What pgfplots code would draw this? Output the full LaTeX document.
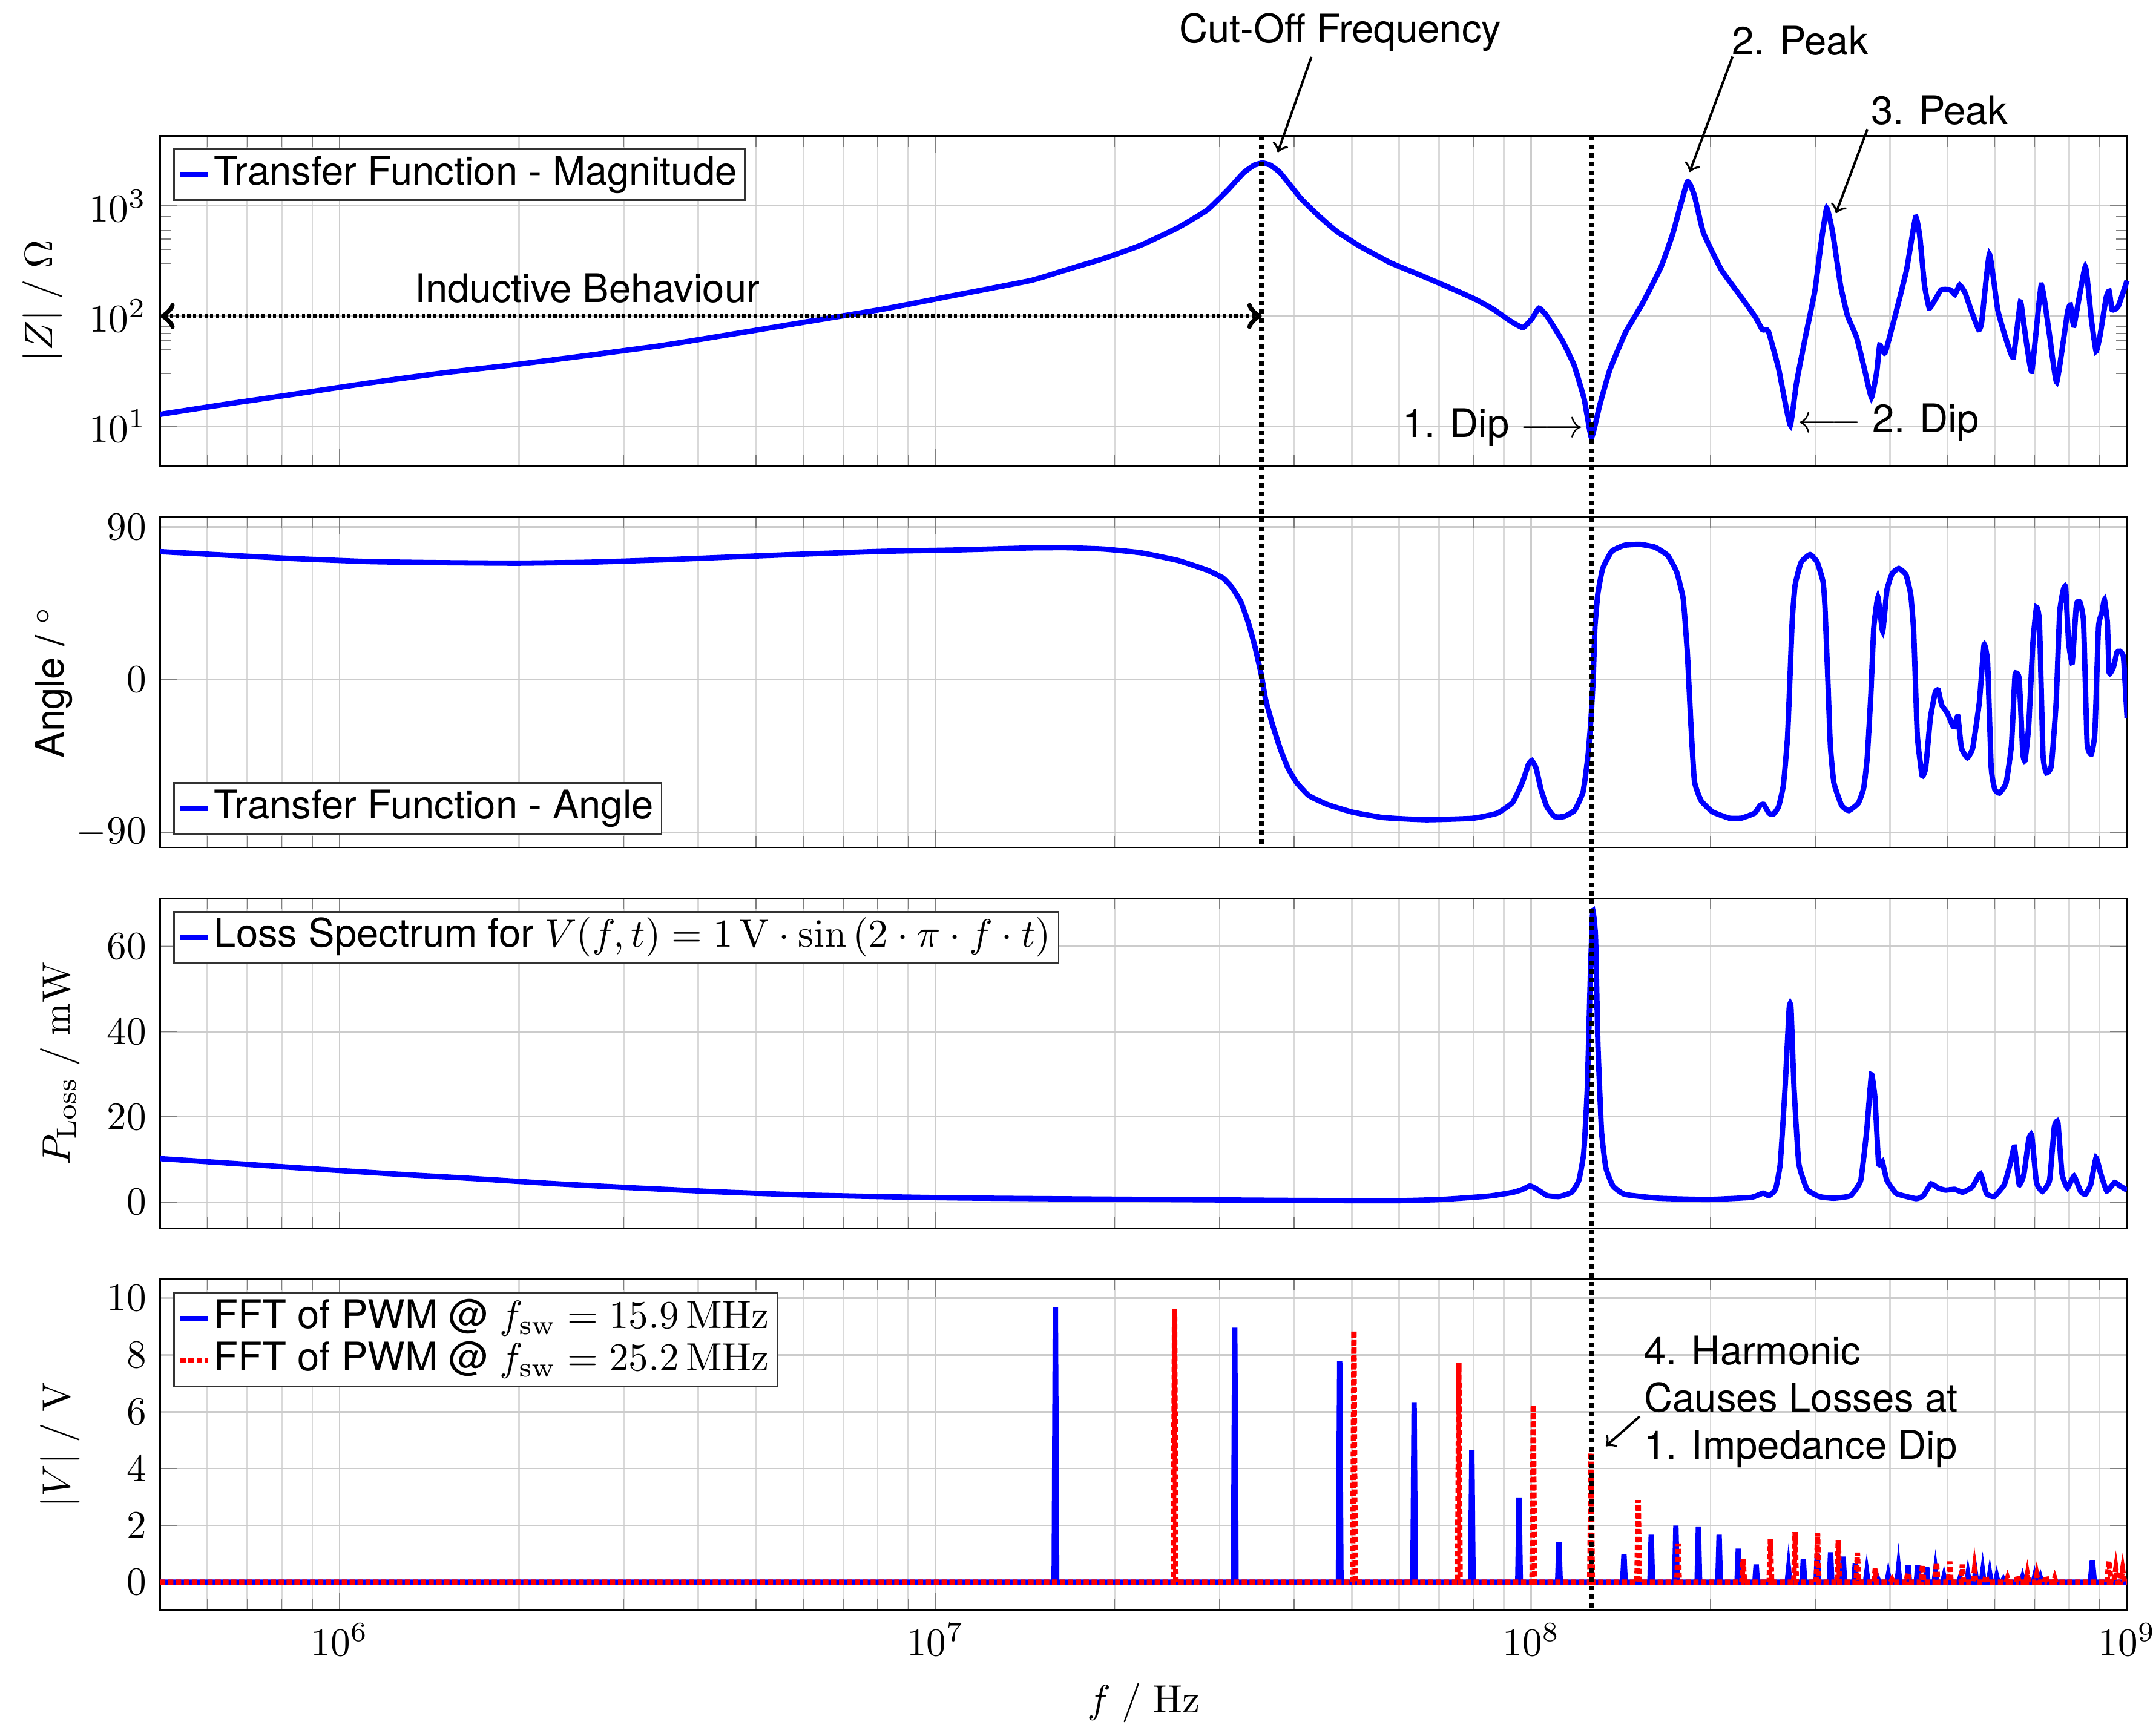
\documentclass[border=0pt]{standalone}
\usepackage[no-math]{fontspec}
\setmainfont{TeX Gyre Heros}
\usepackage{pgfplots}
\pgfplotsset{compat=1.18}

\pgfplotsset{
  every axis/.append style={
    scale only axis, width=498.4pt, height=83.7pt,
    xmin=5e5, xmax=1e9,
    grid=major, xminorgrids=true,
    major grid style={black!20}, minor grid style={black!15},
    legend cell align=left,
    legend style={draw=black!80, inner xsep=1pt, inner ysep=1.1pt,
      nodes={inner xsep=1pt, inner ysep=0.6pt, text height=0.73em, text depth=0.22em}},
  },
  every axis plot/.append style={line width=1.35pt},
  legend image code/.code={\draw[#1] (0cm,0cm) -- (0.24cm,0cm);},
}
\tikzset{
  vline/.style={black, line width=1.35pt, dash pattern=on 1.15pt off 1.05pt},
  note/.style={semithick, ->},
}

\begin{document}
\begin{tikzpicture}[trim left=-40.6pt, trim right=505pt]

% |Z|
\begin{axis}[xmode=log, ymode=log, at={(0,0)}, anchor=north west,
  ymin=4.34, ymax=4330, ytick={10,100,1000},
  xticklabels={}, ylabel={$|Z|\ /\ \Omega$}, clip=false,
  legend style={at={(0.0066,0.9615)}, anchor=north west}]
\addplot[blue, no markers, smooth, tension=0.25] coordinates {
(5e5,12.8) (6.38e5,15.7) (8.49e5,19.7) (1.127e6,24.8) (1.496e6,30.5) (1.986e6,36.4)
(2.636e6,44.2) (3.50e6,54.3) (4.66e6,69.8) (6.18e6,89.9) (8.20e6,115.9) (1.089e7,156)
(1.445e7,210) (1.667e7,265) (1.919e7,333) (2.213e7,440) (2.553e7,634) (2.858e7,916)
(3.090e7,1380) (3.289e7,1995) (3.428e7,2344) (3.540e7,2455) (3.648e7,2344) (3.793e7,1995)
(4.102e7,1175) (4.395e7,815) (4.710e7,590) (5.164e7,428) (5.808e7,304) (6.516e7,235)
(7.328e7,179) (8.035e7,143) (8.630e7,115.6) (9.247e7,89.3) (9.683e7,78.5) (1.002e8,94.0)
(1.030e8,117.8) (1.062e8,100.2) (1.127e8,60.0) (1.180e8,35.8) (1.227e8,17.6) (1.262e8,7.89)
(1.303e8,15.5) (1.355e8,32.5) (1.439e8,70.5) (1.542e8,134) (1.652e8,281) (1.730e8,571)
(1.828e8,1652) (1.879e8,1236) (1.945e8,571) (2.084e8,264) (2.234e8,157) (2.371e8,100.2)
(2.443e8,75.2) (2.500e8,72.8) (2.600e8,33.6) (2.661e8,17.6) (2.723e8,10.2) (2.786e8,24.3)
(2.884e8,64.0) (2.992e8,168) (3.062e8,442) (3.133e8,955) (3.206e8,571) (3.304e8,191)
(3.396e8,100.2) (3.516e8,64.0) (3.622e8,33.6) (3.724e8,18.2) (3.802e8,31.5) (3.846e8,54.5)
(3.926e8,46.3) (4.093e8,107) (4.266e8,264) (4.416e8,789) (4.487e8,536) (4.571e8,191)
(4.656e8,118) (4.753e8,138) (4.875e8,173) (5.047e8,173) (5.140e8,157) (5.236e8,191)
(5.346e8,163) (5.470e8,114) (5.636e8,75.2) (5.702e8,88.1) (5.875e8,364) (6.067e8,114)
(6.252e8,64.0) (6.442e8,42.1) (6.622e8,134) (6.714e8,82.6) (6.918e8,31.5) (7.178e8,191)
(7.396e8,72.8) (7.621e8,25.1) (7.943e8,107) (8.035e8,126) (8.147e8,82.6) (8.511e8,281)
(8.710e8,94.0) (8.872e8,47.9) (9.016e8,68.2) (9.226e8,148) (9.333e8,168) (9.441e8,114)
(9.661e8,122) (1e9,210)
};
\addlegendentry{Transfer Function - Magnitude}
\coordinate (L1top) at (axis cs:3.53e7,4330);
\coordinate (L2top) at (axis cs:1.262e8,4330);
\draw[black, line width=1.35pt, dash pattern=on 0.8pt off 0.65pt, <->] (axis cs:5e5,100) -- (axis cs:3.53e7,100);
\node at (axis description cs:0.2171,0.5391) {Inductive Behaviour};
\node at (axis description cs:0.600,1.3136) {Cut-Off Frequency};
\draw[note] (axis description cs:0.5853,1.2389) -- (axis description cs:0.5682,0.9502);
\node at (axis description cs:0.8338,1.2887) {2. Peak};
\draw[note] (axis description cs:0.7994,1.2398) -- (axis description cs:0.7776,0.8902);
\node at (axis description cs:0.9046,1.0769) {3. Peak};
\draw[note] (axis description cs:0.8680,1.0201) -- (axis description cs:0.8520,0.7657);
\node at (axis description cs:0.6778,0.1177) {1. Dip $\longrightarrow$};
\node at (axis description cs:0.8786,0.1314) {$\longleftarrow$ 2. Dip};
\end{axis}

% angle
\begin{axis}[xmode=log, at={(0,-96.6pt)}, anchor=north west,
  ymin=-98.8, ymax=95.8, ytick={-90,0,90},
  xticklabels={}, ylabel={Angle / $^\circ$},
  ylabel style={at={(ticklabel cs:0.5,-6pt)}},
  legend style={at={(0.0066,0.0385)}, anchor=south west}]
\addplot[blue, no markers, smooth, tension=0.25] coordinates {
(5e5,75.4) (6.38e5,73.4) (8.49e5,71.2) (1.127e6,69.5) (1.496e6,68.9) (1.986e6,68.6)
(2.636e6,69.2) (3.50e6,70.6) (4.66e6,72.4) (6.18e6,74.1) (8.20e6,75.6) (1.089e7,76.4)
(1.445e7,77.6) (1.667e7,77.7) (1.919e7,76.9) (2.213e7,74.7) (2.553e7,70.2) (2.858e7,64.5)
(3.034e7,60.0) (3.141e7,54.6) (3.258e7,45.6) (3.357e7,32.6) (3.436e7,19.7) (3.524e7,2.8)
(3.581e7,-11.4) (3.673e7,-25.6) (3.784e7,-39.9) (3.899e7,-51.5) (4.036e7,-60.6) (4.236e7,-68.4)
(4.550e7,-73.6) (5.012e7,-78.1) (5.649e7,-81.3) (6.668e7,-82.6) (7.980e7,-81.7) (8.770e7,-78.7)
(9.311e7,-72.3) (9.661e7,-60.6) (9.886e7,-50.2) (1.002e8,-47.7) (1.019e8,-52.2) (1.038e8,-64.5)
(1.062e8,-74.9) (1.094e8,-80.7) (1.135e8,-80.7) (1.183e8,-77) (1.222e8,-66) (1.245e8,-45)
(1.259e8,-24.3) (1.271e8,1.6) (1.279e8,31) (1.294e8,51) (1.318e8,65.5) (1.365e8,75.6)
(1.432e8,79.1) (1.521e8,79.7) (1.614e8,78) (1.694e8,73.2) (1.754e8,63.5) (1.799e8,47.7)
(1.828e8,16) (1.854e8,-27) (1.879e8,-60) (1.928e8,-71.3) (2.014e8,-77.9) (2.148e8,-81.6)
(2.254e8,-81.6) (2.371e8,-78.7) (2.421e8,-74.2) (2.455e8,-73.5) (2.506e8,-78.7) (2.547e8,-79.4)
(2.600e8,-75.0) (2.649e8,-62.4) (2.692e8,-34.3) (2.716e8,-1.8) (2.742e8,35.2) (2.773e8,55.9)
(2.838e8,69.2) (2.938e8,73.7) (3.020e8,69.2) (3.090e8,57.4) (3.112e8,42.6) (3.148e8,-1.8)
(3.177e8,-38.8) (3.221e8,-60.9) (3.319e8,-74.2) (3.412e8,-77.2) (3.540e8,-72.8) (3.614e8,-63.9)
(3.664e8,-46.1) (3.715e8,-9.2) (3.758e8,30.8) (3.819e8,48.5) (3.890e8,28.5) (3.954e8,52.9)
(4.036e8,62.6) (4.140e8,65.5) (4.256e8,61.8) (4.335e8,50.0) (4.385e8,27.8) (4.446e8,-32.8)
(4.529e8,-56.5) (4.592e8,-52.1) (4.677e8,-22.5) (4.764e8,-7.7) (4.819e8,-6.2) (4.887e8,-15.1)
(4.989e8,-19.5) (5.093e8,-26.9) (5.129e8,-27.7) (5.200e8,-21.7) (5.272e8,-40.2) (5.395e8,-46.1)
(5.508e8,-40.2) (5.649e8,-13.6) (5.754e8,20.4) (5.834e8,10.1) (5.916e8,-52.1) (5.998e8,-64.6)
(6.109e8,-66.9) (6.266e8,-60.9) (6.397e8,-38.8) (6.486e8,2.7) (6.592e8,0.4) (6.683e8,-43.2)
(6.745e8,-47.6) (6.839e8,-26.9) (6.950e8,21.9) (7.047e8,42.6) (7.129e8,33.7) (7.228e8,-44.7)
(7.328e8,-55.0) (7.464e8,-50.6) (7.603e8,-13.6) (7.709e8,39.6) (7.816e8,52.9) (7.889e8,54.4)
(7.980e8,21.9) (8.091e8,10.1) (8.222e8,44.1) (8.337e8,45.6) (8.453e8,33.7) (8.570e8,-37.3)
(8.710e8,-43.9) (8.831e8,-31.4) (8.954e8,30.8) (9.078e8,39.6) (9.162e8,47.0) (9.268e8,33.7)
(9.333e8,4.1) (9.484e8,7.1) (9.616e8,16.0) (9.727e8,16.7) (9.863e8,13.0) (1e9,-22.5)
};
\addlegendentry{Transfer Function - Angle}
\coordinate (L1bot) at (axis cs:3.53e7,-98.8);
\end{axis}

% losses
\begin{axis}[xmode=log, at={(0,-193.2pt)}, anchor=north west,
  ymin=-6.2, ymax=71.3, ytick={0,20,40,60},
  xticklabels={}, ylabel={$P_{\mathrm{Loss}}\ /\ \mathrm{mW}$},
  legend style={at={(0.0066,0.9615)}, anchor=north west}]
\addplot[blue, no markers, smooth, tension=0.25] coordinates {
(5e5,10.2) (6.58e5,9.1) (9.02e5,7.8) (1.233e6,6.6) (1.687e6,5.5) (2.307e6,4.3)
(3.155e6,3.3) (4.315e6,2.4) (5.902e6,1.7) (8.09e6,1.27) (1.107e7,0.96) (2.070e7,0.66)
(3.873e7,0.4) (5.834e7,0.3) (7.047e7,0.6) (8.492e7,1.4) (9.333e7,2.3) (9.683e7,3.0)
(9.954e7,3.8) (1.023e8,3.0) (1.064e8,1.5) (1.114e8,1.3) (1.169e8,2.3) (1.202e8,5.1)
(1.225e8,11.6) (1.242e8,26.8) (1.256e8,52.1) (1.268e8,68.4) (1.282e8,62.3) (1.294e8,37.0)
(1.312e8,16.7) (1.334e8,8.1) (1.371e8,3.8) (1.435e8,1.8) (1.637e8,0.9) (1.977e8,0.6)
(2.339e8,1.1) (2.449e8,2.1) (2.506e8,1.5) (2.570e8,3.0) (2.618e8,9.1) (2.667e8,26.8)
(2.710e8,45.6) (2.729e8,45.6) (2.761e8,26.8) (2.812e8,9.1) (2.904e8,3.0) (3.041e8,1.3)
(3.221e8,0.9) (3.436e8,1.5) (3.573e8,5.1) (3.656e8,16.7) (3.724e8,29.9) (3.776e8,24.3)
(3.828e8,9.1) (3.882e8,9.6) (3.954e8,5.1) (4.102e8,2.0) (4.426e8,0.8) (4.550e8,1.5)
(4.688e8,4.3) (4.819e8,3.3) (4.955e8,2.8) (5.140e8,3.0) (5.297e8,2.3) (5.495e8,3.5)
(5.675e8,6.6) (5.808e8,2.0) (5.984e8,1.3) (6.223e8,4.1) (6.383e8,9.6) (6.471e8,12.9)
(6.592e8,4.1) (6.714e8,6.6) (6.839e8,14.7) (6.918e8,15.7) (7.047e8,4.6) (7.211e8,2.5)
(7.413e8,5.1) (7.551e8,17.7) (7.656e8,18.7) (7.780e8,6.6) (7.943e8,3.3) (8.147e8,6.1)
(8.356e8,2.5) (8.511e8,1.8) (8.690e8,4.1) (8.872e8,10.4) (9.036e8,6.6) (9.247e8,2.6)
(9.528e8,4.6) (9.727e8,3.8) (1e9,2.8)
};
\addlegendentry{Loss Spectrum for $V(f,t) = 1\,\mathrm{V}\cdot\sin\left(2\cdot\pi\cdot f\cdot t\right)$}
\end{axis}

% FFT
\begin{axis}[xmode=log, at={(0,-289.8pt)}, anchor=north west,
  ymin=-0.97, ymax=10.66, ytick={0,2,4,6,8,10},
  xlabel={$f\ /\ \mathrm{Hz}$}, ylabel={$|V|\ /\ \mathrm{V}$}, clip=false,
  legend style={at={(0.0066,0.9615)}, anchor=north west}]
\addplot[blue, no markers] coordinates {
(5e5,0)
(1.5821e7,0) (1.59e7,9.69) (1.5980e7,0)
(3.1641e7,0) (3.18e7,8.96) (3.1959e7,0)
(4.7462e7,0) (4.77e7,7.79) (4.7939e7,0)
(6.3282e7,0) (6.36e7,6.32) (6.3918e7,0)
(7.9103e7,0) (7.95e7,4.66) (7.9898e7,0)
(9.4923e7,0) (9.54e7,2.98) (9.5877e7,0)
(1.10744e8,0) (1.113e8,1.40) (1.11857e8,0)
(1.42385e8,0) (1.431e8,0.97) (1.43816e8,0)
(1.58205e8,0) (1.59e8,1.67) (1.59795e8,0)
(1.74026e8,0) (1.749e8,1.99) (1.75775e8,0)
(1.89846e8,0) (1.908e8,1.96) (1.91754e8,0)
(2.05667e8,0) (2.067e8,1.67) (2.07734e8,0)
(2.21487e8,0) (2.226e8,1.18) (2.23713e8,0)
(2.37308e8,0) (2.385e8,0.62) (2.39693e8,0)
(2.68949e8,0) (2.703e8,0.45) (2.71652e8,0)
(2.84769e8,0) (2.862e8,0.81) (2.87631e8,0)
(3.0059e8,0) (3.021e8,1.00) (3.03611e8,0)
(3.1641e8,0) (3.18e8,1.05) (3.1959e8,0)
(3.32231e8,0) (3.339e8,0.90) (3.35570e8,0)
(3.48051e8,0) (3.498e8,0.65) (3.51549e8,0)
(3.63872e8,0) (3.657e8,0.33) (3.67529e8,0)
(3.79692e8,0) (3.816e8,0.12) (3.83508e8,0)
(3.95513e8,0) (3.975e8,0.24) (3.99488e8,0)
(4.11333e8,0) (4.134e8,0.45) (4.15467e8,0)
(4.27154e8,0) (4.293e8,0.59) (4.31447e8,0)
(4.42974e8,0) (4.452e8,0.59) (4.47426e8,0)
(4.58795e8,0) (4.611e8,0.53) (4.63406e8,0)
(4.74615e8,0) (4.77e8,0.38) (4.79385e8,0)
(4.90436e8,0) (4.929e8,0.19) (4.95365e8,0)
(5.22077e8,0) (5.247e8,0.15) (5.27324e8,0)
(5.37897e8,0) (5.406e8,0.27) (5.43303e8,0)
(5.53718e8,0) (5.565e8,0.32) (5.59283e8,0)
(5.69538e8,0) (5.724e8,0.35) (5.75262e8,0)
(5.85359e8,0) (5.883e8,0.28) (5.91242e8,0)
(6.01179e8,0) (6.042e8,0.19) (6.07221e8,0)
(6.17000e8,0) (6.201e8,0.09) (6.23201e8,0)
(6.64461e8,0) (6.678e8,0.16) (6.71139e8,0)
(6.96102e8,0) (6.996e8,0.19) (7.03098e8,0)
(7.11923e8,0) (7.155e8,0.15) (7.19078e8,0)
(8.675e8,0) (8.745e8,0.77) (8.815e8,0)
(1e9,0)
};
\addlegendentry{FFT of PWM @ $f_{\mathrm{sw}} = 15.9\,\mathrm{MHz}$}
\addplot[red, no markers, dash pattern=on 1.3pt off 0.7pt] coordinates {
(5e5,0)
(2.5074e7,0) (2.52e7,9.63) (2.5326e7,0)
(5.0148e7,0) (5.04e7,8.85) (5.0652e7,0)
(7.5222e7,0) (7.56e7,7.72) (7.5978e7,0)
(1.00296e8,0) (1.008e8,6.25) (1.01304e8,0)
(1.2537e8,0) (1.26e8,4.57) (1.2663e8,0)
(1.50444e8,0) (1.512e8,2.89) (1.51956e8,0)
(1.75518e8,0) (1.764e8,1.36) (1.77282e8,0)
(2.25666e8,0) (2.268e8,0.81) (2.27934e8,0)
(2.5074e8,0) (2.52e8,1.51) (2.5326e8,0)
(2.75814e8,0) (2.772e8,1.76) (2.78586e8,0)
(3.00888e8,0) (3.024e8,1.73) (3.03912e8,0)
(3.25962e8,0) (3.276e8,1.48) (3.29238e8,0)
(3.51036e8,0) (3.528e8,1.04) (3.54564e8,0)
(3.7611e8,0) (3.78e8,0.48) (3.7989e8,0)
(4.01184e8,0) (4.032e8,0.09) (4.05216e8,0)
(4.26258e8,0) (4.284e8,0.34) (4.30542e8,0)
(4.51332e8,0) (4.536e8,0.60) (4.55868e8,0)
(4.76406e8,0) (4.788e8,0.69) (4.81194e8,0)
(5.0148e8,0) (5.04e8,0.73) (5.0652e8,0)
(5.26554e8,0) (5.292e8,0.62) (5.31846e8,0)
(5.51628e8,0) (5.544e8,0.41) (5.57172e8,0)
(5.76702e8,0) (5.796e8,0.23) (5.82498e8,0)
(6.2685e8,0) (6.3e8,0.14) (6.3315e8,0)
(6.51924e8,0) (6.552e8,0.23) (6.58476e8,0)
(6.76998e8,0) (6.804e8,0.26) (6.83802e8,0)
(7.02072e8,0) (7.056e8,0.24) (7.09128e8,0)
(7.27146e8,0) (7.308e8,0.23) (7.34454e8,0)
(7.5222e8,0) (7.56e8,0.14) (7.5978e8,0)
(9.25e8,0) (9.324e8,0.74) (9.40e8,0)
(9.50e8,0) (9.576e8,0.48) (9.65e8,0)
(9.75e8,0) (9.828e8,0.44) (9.90e8,0)
(1e9,0)
};
\addlegendentry{FFT of PWM @ $f_{\mathrm{sw}} = 25.2\,\mathrm{MHz}$}
\coordinate (L2bot) at (axis cs:1.262e8,-0.97);
\node[anchor=west, align=left, inner sep=0pt] at (axis description cs:0.7541,0.6294) {4. Harmonic\\Causes Losses at\\1. Impedance Dip};
\draw[note] (axis description cs:0.7522,0.5850) -- (axis description cs:0.7350,0.4953);
\end{axis}

\draw[vline] (L1top) -- (L1bot);
\draw[vline] (L2top) -- (L2bot);
\end{tikzpicture}
\end{document}
